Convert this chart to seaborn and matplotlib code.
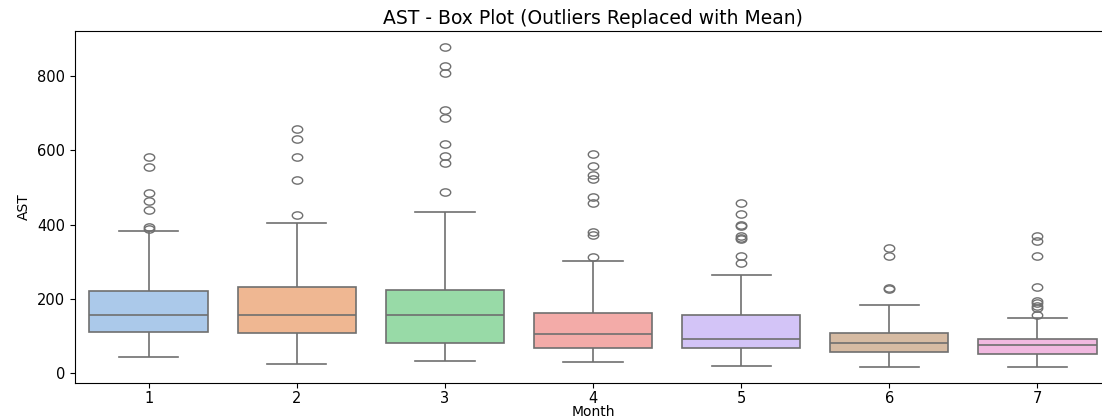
import matplotlib
matplotlib.use("Agg")
import matplotlib.pyplot as plt
from matplotlib.path import Path
from matplotlib.transforms import Affine2D
import seaborn as sns
import pandas as pd

# Per-month AST summary: whisker ends, quartiles and the points beyond the fences
months = [1, 2, 3, 4, 5, 6, 7]
whisker_low = [42, 23, 31, 29, 18, 16, 17]
q1 = [110, 107, 80, 66, 66, 57, 52]
median = [155, 155, 156, 105, 91, 80, 75]
q3 = [220, 232, 225, 162, 156, 108, 91]
whisker_high = [382, 405, 435, 303, 263, 183, 148]
outliers = [
    [389, 393, 440, 465, 485, 555, 583],
    [425, 521, 583, 632, 658],
    [488, 565, 585, 618, 688, 708, 808, 828, 879],
    [314, 373, 380, 457, 475, 522, 533, 559, 590],
    [297, 316, 361, 365, 370, 395, 399, 428, 459],
    [226, 230, 315, 337],
    [156, 175, 181, 188, 195, 231, 316, 355, 368],
]

# Build a long table of readings per month; each quartile value is held by
# a block of readings so the box statistics land on it exactly
block = 20
rows = []
for i, m in enumerate(months):
    vals = ([whisker_low[i]] + [q1[i]] * block + [median[i]] * block
            + [q3[i]] * block + [whisker_high[i]] + outliers[i])
    rows.extend((m, v) for v in vals)
df = pd.DataFrame(rows, columns=["Month", "AST"])

# Slightly flattened ring for the flier markers
flat_ring = Affine2D().scale(1.0, 0.7).transform_path(Path.unit_circle())

fig = plt.figure(figsize=(11.02, 4.19), dpi=100)
ax = fig.add_axes([74.65 / 1102, 36 / 419, (1111.4 - 74.65) / 1102, 352 / 419])

sns.boxplot(data=df, x="Month", y="AST", hue="Month", palette="pastel",
            legend=False, ax=ax, linewidth=1.2,
            flierprops={"marker": flat_ring, "markersize": 7.5})

ax.set_title("AST - Box Plot (Outliers Replaced with Mean)", fontsize=13.5, pad=5)
ax.set_xlabel("Month", fontsize=10, labelpad=-1)
ax.set_ylabel("AST", fontsize=10)
ax.tick_params(axis="both", labelsize=10.5)
ax.tick_params(axis="x", pad=2.5)

fig.savefig("out.png", dpi=100)
